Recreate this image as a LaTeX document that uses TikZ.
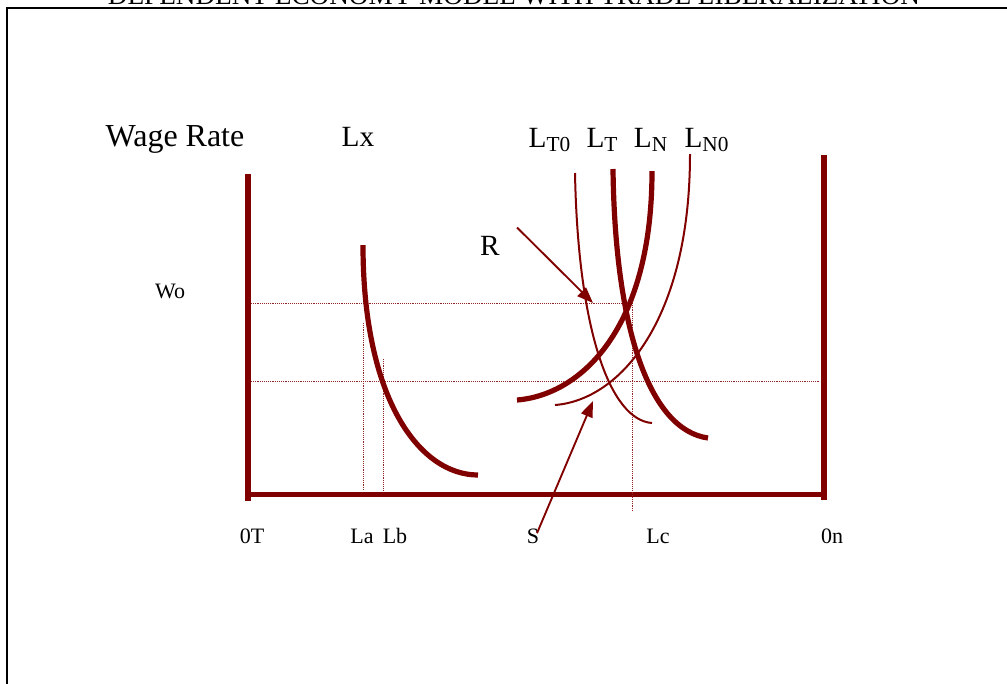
\documentclass[tikz,border=0pt]{standalone}
\usepackage{fontspec}
\setmainfont{Liberation Serif}
\usetikzlibrary{arrows.meta}
\definecolor{maroon}{HTML}{800000}
\newcommand{\sublbl}[2]{#1\raisebox{-3pt}{\fontsize{16}{16}\selectfont #2}}
\tikzset{
  every node/.style={text=black,inner sep=0pt},
  frame/.style={line width=1.5pt,draw=black},
  axisline/.style={line width=4.2pt,draw=maroon},
  bigcurve/.style={line width=3.9pt,draw=maroon},
  thincurve/.style={line width=1.5pt,draw=maroon},
  guide/.style={line width=0.7pt,draw=maroon!85,dash pattern=on 0.7pt off 0.7pt},
  pointer/.style={-{Triangle[length=12pt,width=9pt]},line width=1.4pt,draw=maroon},
  biglbl/.style={font=\fontsize{22}{24}\selectfont,anchor=base},
  smalllbl/.style={font=\fontsize{16.5}{18}\selectfont,anchor=base},
  titlelbl/.style={font=\fontsize{20.4}{21}\selectfont,anchor=base}
}
\begin{document}
\begin{tikzpicture}[x=0.75pt,y=-0.75pt]
  \useasboundingbox (0,0) rectangle (1007,683);
  \draw[frame] (7,8) rectangle (1015,695);
  \node[titlelbl] (title) at (514,4) {DEPENDENT ECONOMY MODEL WITH TRADE LIBERALIZATION};

  \coordinate (oT) at (248,494.5);
  \coordinate (oN) at (824,494.5);
  \draw[axisline] (248,174) -- (248,501);
  \draw[axisline] (824,155) -- (824,500);
  \draw[axisline] (oT) -- (oN);

  \draw[guide] (251,303) -- (632,303);
  \draw[guide] (251,381) -- (820,381);
  \draw[guide] (632,303) -- (632,512);
  \draw[guide] (363,323) -- (363,490);
  \draw[guide] (383,359) -- (383,490);

  \draw[bigcurve] (363,245) .. controls (363,400) and (420,475) .. (478,475);
  \draw[thincurve] (575,173) .. controls (578,330) and (610,420) .. (652,423);
  \draw[bigcurve] (613,169) .. controls (615,330) and (650,430) .. (708,438);
  \draw[bigcurve] (652,171) .. controls (652,330) and (580,395) .. (517,400);
  \draw[thincurve] (690,154) .. controls (690,320) and (620,400) .. (555,405);

  \node[biglbl,font=\fontsize{24}{26}\selectfont] (wage) at (175,146) {Wage Rate};
  \node[biglbl] (lx) at (358,146) {Lx};
  \node[biglbl] (lt0) at (549.5,147) {\sublbl{L}{T0}};
  \node[biglbl] (lt) at (602,147) {\sublbl{L}{T}};
  \node[biglbl] (ln) at (650.5,147) {\sublbl{L}{N}};
  \node[biglbl] (ln0) at (706.5,147) {\sublbl{L}{N0}};
  \node[biglbl] (R) at (490,255) {R};
  \node[smalllbl] (wo) at (170,298) {Wo};

  \node[smalllbl] (zt) at (252,543) {0T};
  \node[smalllbl] (la) at (362,543) {La};
  \node[smalllbl] (lb) at (395,543) {Lb};
  \node[smalllbl] (S) at (533,543) {S};
  \node[smalllbl] (lc) at (658,543) {Lc};
  \node[smalllbl] (zn) at (832,543) {0n};

  \coordinate (rtip) at (593,303);
  \coordinate (stip) at (593,401);
  \draw[pointer] ([shift={(17,-8)}]R.north east) -- (rtip);
  \draw[pointer] ([shift={(4,5)}]S.north) -- (stip);
\end{tikzpicture}
\end{document}
